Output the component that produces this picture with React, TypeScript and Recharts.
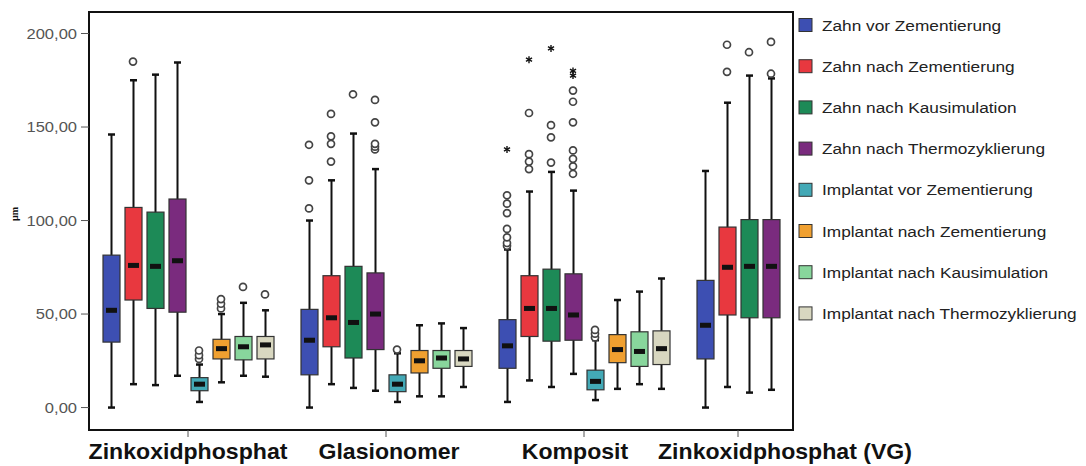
import React from 'react';
import { ComposedChart, Bar, Scatter, XAxis, YAxis, ReferenceArea, Legend } from 'recharts';

// ---------- categories / series ----------
const groups = ['Zinkoxidphosphat', 'Glasionomer', 'Komposit', 'Zinkoxidphosphat (VG)'];
const seriesNames = [
  'Zahn vor Zementierung',
  'Zahn nach Zementierung',
  'Zahn nach Kausimulation',
  'Zahn nach Thermozyklierung',
  'Implantat vor Zementierung',
  'Implantat nach Zementierung',
  'Implantat nach Kausimulation',
  'Implantat nach Thermozyklierung',
];
const seriesColors = ['#3D4FB2', '#E8383F', '#1D8A57', '#7A2B7E', '#43A9B6', '#F0A030', '#88D69C', '#D8D7C0'];
const yTicks = [0, 50, 100, 150, 200];
const groupTickPositions = [4.5, 13.5, 22.5, 29.5];

// ---------- box values per group: [whiskerLow, Q1, median, Q3, whiskerHigh] ----------
const zahnVorZementierung = [[0, 35, 52, 81.5, 146], [0, 17.5, 36, 52.5, 100], [3, 21, 33, 47, 84.5], [0, 26, 44, 68, 126.5]];
const zahnNachZementierung = [[12.5, 57.5, 76, 107, 175], [12.5, 32.5, 48, 70.5, 121.5], [14.5, 38, 53, 70.5, 115.5], [11, 49.5, 75, 96.5, 163]];
const zahnNachKausimulation = [[12, 53, 75.5, 104.5, 178], [10.5, 26.5, 45.5, 75.5, 146.5], [11, 35.5, 53, 74, 126], [8, 48, 75.5, 100.5, 177.5]];
const zahnNachThermo = [[17, 51, 78.5, 111.5, 184.5], [9, 31, 50, 72, 127.5], [18, 36, 49.5, 71.5, 116], [9.5, 48, 75.5, 100.5, 176]];
const implVorZementierung = [[3, 9, 12.5, 16, 23], [3, 8.5, 12.5, 17.5, 29], [4, 9.5, 14, 20, 36], null];
const implNachZementierung = [[13.5, 26, 31.5, 36.5, 50], [6, 18.5, 25, 30.5, 44], [10, 24, 31, 39, 57.5], null];
const implNachKausimulation = [[17, 25.5, 32.5, 38, 56], [6, 21, 26.5, 30.5, 45], [12.5, 22, 30, 40.5, 62], null];
const implNachThermo = [[16.5, 26, 33.5, 38, 52], [11, 22, 26, 30.5, 42.5], [10, 23, 31.5, 41, 69], null];

// ---------- outliers (circles) per group ----------
const outZahnVor = [[], [106.5, 121.5, 140.5], [86.5, 88, 91, 95.5, 104, 109, 113.5], []];
const outZahnNachZem = [[185], [131.5, 141, 145, 157], [127.5, 131.5, 135.5, 157.5], [179.5, 194]];
const outZahnNachKau = [[], [167.5], [131, 144.5, 151], [190]];
const outZahnNachThermo = [[], [138, 139.5, 141, 152.5, 164.5], [125, 129, 133, 137.5, 152.5, 163.5, 169.5], [178.5, 195.5]];
const outImplVor = [[26, 28, 30.5], [31], [37.5, 39.5, 41.5], []];
const outImplNachZem = [[53, 55.5, 58], [], [], []];
const outImplNachKau = [[64.5], [], [], []];
const outImplNachThermo = [[60.5], [], [], []];

// ---------- extremes (stars) per group ----------
const extZahnVor = [[], [], [138], []];
const extZahnNachZem = [[], [], [186], []];
const extZahnNachKau = [[], [], [192], []];
const extZahnNachThermo = [[], [], [177.5, 180], []];

const allBoxes = [zahnVorZementierung, zahnNachZementierung, zahnNachKausimulation, zahnNachThermo, implVorZementierung, implNachZementierung, implNachKausimulation, implNachThermo];
const allOutliers = [outZahnVor, outZahnNachZem, outZahnNachKau, outZahnNachThermo, outImplVor, outImplNachZem, outImplNachKau, outImplNachThermo];
const allExtremes = [extZahnVor, extZahnNachZem, extZahnNachKau, extZahnNachThermo, [[], [], [], []], [[], [], [], []], [[], [], [], []], [[], [], [], []]];

const slot = (g: number, s: number) => 1 + g * 9 + s;

const boxRows: any[] = [];
const outlierRows: any[] = [];
const extremeRows: any[] = [];
groups.forEach((_, g) => {
  allBoxes.forEach((series, s) => {
    const b = series[g];
    if (!b) return;
    boxRows.push({ x: slot(g, s), range: [b[0], b[4]], lo: b[0], q1: b[1], median: b[2], q3: b[3], hi: b[4], color: seriesColors[s] });
    allOutliers[s][g].forEach((v) => outlierRows.push({ x: slot(g, s), y: v }));
    allExtremes[s][g].forEach((v) => extremeRows.push({ x: slot(g, s), y: v }));
  });
});

const BoxShape = (props: any) => {
  const { x, y, width, height, payload } = props;
  if (x == null || y == null) return null;
  const p = payload || props;
  const top = Math.min(y, y + height);
  const bot = Math.max(y, y + height);
  const unit = (bot - top) / (p.hi - p.lo);
  const yOf = (v: number) => top + (p.hi - v) * unit;
  const cx = x + width / 2;
  const yQ3 = yOf(p.q3);
  const yQ1 = yOf(p.q1);
  const yMed = yOf(p.median);
  return (
    <g>
      <line x1={cx} x2={cx} y1={top} y2={bot} stroke="#111" strokeWidth={2} />
      <line x1={cx - 3.5} x2={cx + 3.5} y1={top} y2={top} stroke="#111" strokeWidth={2.5} />
      <line x1={cx - 3.5} x2={cx + 3.5} y1={bot} y2={bot} stroke="#111" strokeWidth={2.5} />
      <rect x={x} y={yQ3} width={width} height={yQ1 - yQ3} fill={p.color} stroke="#333" strokeWidth={1.2} />
      <rect x={cx - 5.5} y={yMed - 2.5} width={11} height={5} fill="#111" />
    </g>
  );
};

const CircleShape = (props: any) => {
  const { cx, cy } = props;
  if (cx == null || cy == null) return null;
  return <circle cx={cx} cy={cy} r={3.5} fill="#fff" stroke="#444" strokeWidth={1.7} />;
};

const StarShape = (props: any) => {
  const { cx, cy } = props;
  if (cx == null || cy == null) return null;
  const r = 3.5;
  return (
    <g stroke="#111" strokeWidth={1.4}>
      <line x1={cx} x2={cx} y1={cy - r} y2={cy + r} />
      <line x1={cx - r * 0.87} x2={cx + r * 0.87} y1={cy - r * 0.5} y2={cy + r * 0.5} />
      <line x1={cx - r * 0.87} x2={cx + r * 0.87} y1={cy + r * 0.5} y2={cy - r * 0.5} />
    </g>
  );
};

const YTick = (props: any) => {
  const { x, y, payload } = props;
  const label = Number(payload.value).toFixed(2).replace('.', ',');
  return (
    <text x={0} y={0} transform={`translate(${x},${y}) scale(1.18,1)`} textAnchor="end" dominantBaseline="central"
      fontSize={14} fill="#555" fontFamily="'Liberation Sans', Arial, sans-serif">
      {label}
    </text>
  );
};

const labelShift = [0, 3, -9, 47];
const XTick = (props: any) => {
  const { x, y, payload, index } = props;
  const i = groupTickPositions.indexOf(payload.value);
  const name = groups[i >= 0 ? i : index];
  const dx = labelShift[i >= 0 ? i : index] || 0;
  return (
    <text x={0} y={0} transform={`translate(${x + dx},${y + 20}) scale(1.05,1)`} textAnchor="middle"
      fontSize={22} fontWeight="bold" fill="#111" fontFamily="'Liberation Sans', Arial, sans-serif">
      {name}
    </text>
  );
};

const LegendContent = () => (
  <svg width={286} height={330} style={{ display: 'block', overflow: 'visible' }}>
    {seriesNames.map((name, i) => {
      const cy = 17 + i * 41.2;
      return (
        <g key={name}>
          <rect x={1} y={cy - 6.5} width={13} height={13} fill={seriesColors[i]} stroke="#333" strokeWidth={1} />
          <text x={0} y={0} transform={`translate(24,${cy}) scale(1.15,1)`} dominantBaseline="central" fontSize={15}
            fill="#222" fontFamily="'Liberation Sans', Arial, sans-serif">
            {name}
          </text>
        </g>
      );
    })}
  </svg>
);

export default function App() {
  return (
    <div style={{ width: 1078, height: 458 }}>
      <ComposedChart width={1078} height={458} data={boxRows} margin={{ top: 4, right: 7, bottom: 0, left: 0 }}
        style={{ overflow: 'visible' }}>
        <XAxis dataKey="x" type="number" domain={[0, 32]} ticks={groupTickPositions} allowDataOverflow
          height={36} tick={<XTick />} tickSize={7} tickMargin={2} interval={0}
          tickLine={{ stroke: '#555' }} axisLine={{ stroke: '#111', strokeWidth: 2 }} />
        <YAxis type="number" domain={[-12, 211.5]} ticks={yTicks} allowDataOverflow width={81}
          tick={<YTick />} tickSize={8} tickMargin={4} tickLine={{ stroke: '#555' }}
          axisLine={{ stroke: '#111', strokeWidth: 2 }}
          label={{ value: 'µm', angle: -90, position: 'insideLeft', offset: 6, style: { fontSize: 10, fontWeight: 'bold', fill: '#111' } }} />
        <ReferenceArea x1={0} x2={32} y1={-12} y2={211.5} fill="none" stroke="#111" strokeWidth={2} ifOverflow="visible" />
        <Bar dataKey="range" barSize={17} shape={<BoxShape />} isAnimationActive={false} />
        <Scatter data={outlierRows} dataKey="y" shape={<CircleShape />} isAnimationActive={false} />
        <Scatter data={extremeRows} dataKey="y" shape={<StarShape />} isAnimationActive={false} />
        <Legend content={<LegendContent />} layout="vertical" verticalAlign="top" align="right"
          wrapperStyle={{ position: 'absolute', left: 790, top: 0, width: 286 }} />
      </ComposedChart>
    </div>
  );
}
